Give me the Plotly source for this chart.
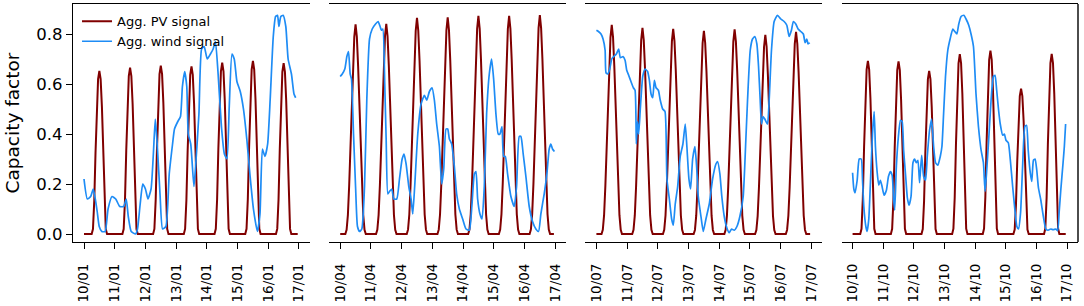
import plotly.graph_objects as go

# ---------------- data ----------------
WEEK_LABELS = {
    "jan": ["10/01", "11/01", "12/01", "13/01", "14/01", "15/01", "16/01", "17/01"],
    "apr": ["10/04", "11/04", "12/04", "13/04", "14/04", "15/04", "16/04", "17/04"],
    "jul": ["10/07", "11/07", "12/07", "13/07", "14/07", "15/07", "16/07", "17/07"],
    "oct": ["10/10", "11/10", "12/10", "13/10", "14/10", "15/10", "16/10", "17/10"],
}
TICK_HOURS = [0, 24, 48, 72, 96, 120, 144, 168]

# daily PV peak values (one per day)
PV_PEAKS_JAN = [0.652, 0.665, 0.673, 0.670, 0.685, 0.692, 0.683]
PV_PEAKS_APR = [0.839, 0.841, 0.865, 0.867, 0.873, 0.873, 0.876]
PV_PEAKS_JUL = [0.837, 0.825, 0.821, 0.813, 0.819, 0.797, 0.809]
PV_PEAKS_OCT = [0.692, 0.690, 0.652, 0.719, 0.733, 0.581, 0.720]

# relative shape of one day of PV output
PV_SHAPE_HOURS_WINTER = [6, 7, 8, 9, 10, 11, 12, 13, 14, 15, 16, 17, 18]
PV_SHAPE_WINTER = [0, 0.03, 0.20, 0.50, 0.78, 0.95, 1.0, 0.95, 0.78, 0.50, 0.20, 0.03, 0]
PV_SHAPE_HOURS_SUMMER = [4, 5, 6, 7, 8, 9, 10, 11, 12, 13, 14, 15, 16, 17, 18, 19, 20]
PV_SHAPE_SUMMER = [0, 0.02, 0.09, 0.23, 0.42, 0.62, 0.80, 0.94, 1.0, 0.94, 0.80, 0.62,
                   0.42, 0.23, 0.09, 0.02, 0]

WIND_HOURS_JAN = [0, 2.6, 5.2, 7.2, 8.8, 10.3, 11.9, 13.9, 16.5, 18.8, 21.9, 24.8, 27.9, 31,
                  33, 34.6, 36.9, 40.3, 41.8, 43.9, 45.9, 48, 50, 52.4, 54.2, 55.7, 57.3, 59.4,
                  61.4, 64, 66.6, 69.2, 70.7, 73.3, 75.4, 76.9, 78.7, 80.3, 81.5, 83.4, 85.9,
                  87.2, 89.8, 91.9, 93.9, 96.3, 98.8, 100.9, 102.7, 104.8, 107.4, 109.7, 111.7,
                  113.5, 115.6, 117.4, 119.5, 122.1, 124.6, 127.2, 129.8, 132.4, 135.5, 137.5,
                  139.4, 141.4, 143.5, 145.5, 147.9, 149.7, 151.2, 152.3, 153.8, 155.6, 157.7,
                  159.5, 162.1, 164.1, 165.4]
WIND_JAN = [0.22, 0.14, 0.15, 0.18, 0.14, 0.09, 0.03, 0.01, 0.01, 0.10, 0.15, 0.14, 0.11, 0.11,
            0.14, 0.07, 0.01, 0.0, 0.02, 0.12, 0.20, 0.18, 0.14, 0.18, 0.32, 0.46, 0.35, 0.16,
            0.02, 0.03, 0.24, 0.36, 0.42, 0.45, 0.47, 0.59, 0.65, 0.59, 0.40, 0.36, 0.19,
            0.27, 0.48, 0.74, 0.75, 0.70, 0.72, 0.74, 0.77, 0.64, 0.43, 0.32, 0.30,
            0.51, 0.72, 0.70, 0.61, 0.57, 0.50, 0.38, 0.23, 0.10, 0.01, 0.08,
            0.34, 0.31, 0.36, 0.54, 0.79, 0.87, 0.875, 0.83, 0.87, 0.875, 0.83,
            0.70, 0.64, 0.56, 0.545]

WIND_HOURS_APR = [0, 1.6, 3.6, 5.2, 6.5, 7.8, 8.8, 10.4, 12, 13.5, 15.1, 16.9, 19, 20.8, 22.9,
                  25, 27.6, 29.6, 31.2, 32.2, 33.3, 34.8, 35.9, 37.2, 38.5, 40.3, 41.9, 44.2,
                  46.3, 48.4, 49.9, 51.5, 53.6, 55.4, 56.7, 58.2, 60.6, 63.2, 65.8, 67.6, 69.7,
                  71.8, 73.6, 75.4, 77.5, 79.3, 80.9, 82.7, 84, 85.3, 87.1, 89.2, 91, 93.1,
                  95.7, 98.3, 100.9, 103, 104.8, 106.1, 107.4, 109.2, 110.8, 112.6, 114.4,
                  116.5, 118.3, 119.9, 121.7, 123.5, 124.8, 126.4, 127.7, 129, 130.8, 133.4,
                  136, 137.8, 139.9, 141.2, 143, 145.1, 147.7, 150.3, 152.9, 155, 156.8,
                  159.4, 161.5, 163.3, 164.6, 165.9, 167.4]
WIND_APR = [0.63, 0.64, 0.66, 0.71, 0.73, 0.64, 0.62, 0.40, 0.19, 0.03, 0.01, 0.02, 0.19, 0.54,
            0.78, 0.82, 0.84, 0.85, 0.83, 0.815, 0.82, 0.60, 0.38, 0.16, 0.17, 0.18, 0.14, 0.14,
            0.22, 0.30, 0.32, 0.28, 0.19, 0.14, 0.08, 0.19, 0.40, 0.52, 0.555, 0.535, 0.57,
            0.585, 0.535, 0.44, 0.35, 0.20, 0.26, 0.42, 0.42, 0.38, 0.36, 0.27, 0.16, 0.10,
            0.06, 0.02, 0.015, 0.12, 0.24, 0.25, 0.14, 0.08, 0.06, 0.19, 0.48,
            0.64, 0.70, 0.62, 0.48, 0.40, 0.40, 0.43, 0.31, 0.31, 0.24, 0.15,
            0.11, 0.19, 0.39, 0.39, 0.32, 0.23, 0.11, 0.05, 0.02, 0.01, 0.08,
            0.16, 0.24, 0.34, 0.36, 0.34, 0.33]

WIND_HOURS_JUL = [0, 1.6, 3.6, 5.2, 6.8, 7.5, 8.8, 10.4, 12, 13.5, 15.6, 17.4, 18.7, 20.8, 22.4,
                  23.7, 25.2, 27, 28.9, 30.2, 31.2, 32, 33, 34.3, 36.2, 38, 40, 41.4, 42.7, 44,
                  45.3, 46.6, 48.4, 49.9, 51.8, 53.6, 55.1, 57, 58.8, 60.1, 61.6, 63.5, 65.5,
                  67.6, 69.4, 70.7, 72.3, 73.6, 75.2, 77, 78.3, 79.6, 81.7, 83.5, 85.6, 88.2,
                  90.8, 93.4, 94.7, 96.5, 98, 99.9, 101.9, 103.8, 105.6, 107.7, 109.8, 112.1,
                  114.7, 116.8, 118.1, 120.2, 122, 123.8, 125.4, 126.7, 128, 129, 130.3, 131.6,
                  133.7, 135, 136.8, 138.9, 141.5, 144.1, 146.7, 148.8, 150.6, 152.4, 153.9,
                  155.8, 157.6, 159.7, 161.7, 163.1, 164.4, 165.4, 166.7]
WIND_JUL = [0.815, 0.81, 0.80, 0.78, 0.735, 0.645, 0.64, 0.66, 0.70, 0.71, 0.72, 0.74, 0.705,
            0.71, 0.695, 0.655, 0.635, 0.61, 0.585, 0.575, 0.36, 0.45, 0.40, 0.50, 0.63, 0.66,
            0.65, 0.615, 0.56, 0.545, 0.615, 0.585, 0.575, 0.535, 0.50, 0.49, 0.22, 0.14,
            0.06, 0.035, 0.12, 0.19, 0.31, 0.36, 0.44, 0.35, 0.22, 0.18, 0.30, 0.35, 0.27,
            0.15, 0.07, 0.01, 0.06, 0.12, 0.22, 0.28, 0.29, 0.24, 0.15, 0.07, 0.025, 0.005,
            0.02, 0.015, 0.03, 0.07, 0.15, 0.38, 0.535, 0.735, 0.78, 0.79, 0.76, 0.67,
            0.535, 0.44, 0.47, 0.46, 0.44, 0.535, 0.735, 0.85, 0.875, 0.86, 0.85, 0.835,
            0.79, 0.815, 0.85, 0.84, 0.82, 0.81, 0.80, 0.765, 0.78, 0.76, 0.765]

WIND_HOURS_OCT = [0, 1, 2, 3.6, 5.2, 6.8, 7.8, 8.8, 10.4, 11.4, 12.7, 14.3, 15.6, 16.9, 17.9,
                  19.2, 20.5, 21.8, 23.1, 24.7, 26.5, 28.1, 29.6, 31, 32.2, 33, 34.3, 35.9,
                  37.5, 38.8, 40, 41.6, 42.9, 44.2, 45.8, 47.3, 48.6, 49.9, 51.2, 52.5, 54.1,
                  55.7, 57.2, 58.5, 60.3, 61.9, 63.5, 65, 66.8, 68.7, 70, 71.3, 72.8, 74.6,
                  76.4, 78.5, 80.1, 81.7, 83.2, 85, 87.1, 88.9, 91, 92.8, 94.7, 96.7, 98.6,
                  100.7, 102.5, 103.8, 105.1, 106.6, 108.5, 110.3, 111.6, 112.9, 114.4, 115.7,
                  117.6, 118.9, 120.2, 122, 123.6, 125.4, 127.2, 128.7, 130, 131.6, 133.2,
                  135, 136.3, 137.6, 139.2, 140.4, 141.7, 143, 144.3, 145.6, 147.5, 149.3,
                  151.4, 153.2, 155.3, 157.1, 159.2, 160.7, 161.8, 163.1, 164.9, 165.9, 166.9]
WIND_OCT = [0.245, 0.18, 0.165, 0.215, 0.30, 0.30, 0.215, 0.11, 0.03, 0.01, 0.06, 0.245, 0.40,
            0.49, 0.35, 0.25, 0.195, 0.215, 0.19, 0.155, 0.175, 0.23, 0.25, 0.235, 0.135,
            0.095, 0.27, 0.39, 0.455, 0.45, 0.335, 0.23, 0.145, 0.115, 0.15, 0.285, 0.30,
            0.285, 0.295, 0.205, 0.315, 0.23, 0.215, 0.31, 0.415, 0.46, 0.35, 0.285, 0.275,
            0.31, 0.35, 0.48, 0.63, 0.735, 0.78, 0.82, 0.81, 0.80, 0.84, 0.87, 0.875, 0.86,
            0.835, 0.80, 0.75, 0.56, 0.43, 0.335, 0.285, 0.17, 0.255, 0.375, 0.535, 0.63,
            0.635, 0.575, 0.495, 0.44, 0.395, 0.40, 0.375, 0.365, 0.295, 0.19, 0.095, 0.03,
            0.02, 0.085, 0.27, 0.43, 0.435, 0.335, 0.245, 0.21, 0.295, 0.30, 0.255, 0.185,
            0.135, 0.075, 0.02, 0.015, 0.02, 0.017, 0.02, 0.013, 0.085, 0.175, 0.285, 0.35,
            0.44]

Y_TICKS = [0.0, 0.2, 0.4, 0.6, 0.8]

PANELS = [
    ("jan", PV_PEAKS_JAN, PV_SHAPE_HOURS_WINTER, PV_SHAPE_WINTER, WIND_HOURS_JAN, WIND_JAN),
    ("apr", PV_PEAKS_APR, PV_SHAPE_HOURS_SUMMER, PV_SHAPE_SUMMER, WIND_HOURS_APR, WIND_APR),
    ("jul", PV_PEAKS_JUL, PV_SHAPE_HOURS_SUMMER, PV_SHAPE_SUMMER, WIND_HOURS_JUL, WIND_JUL),
    ("oct", PV_PEAKS_OCT, PV_SHAPE_HOURS_WINTER, PV_SHAPE_WINTER, WIND_HOURS_OCT, WIND_OCT),
]

# ---------------- styling / layout ----------------
PV_COLOR = "#800000"
WIND_COLOR = "#1E8CF5"
FONT = "DejaVu Sans"
W, H = 1084, 306
ML, MR, MT, MB = 73, 6, 4, 64
PLOT_W = W - ML - MR
PANEL_W = 237.0
PITCH = 256.2
XR = [-8.6, 176.6]
YR = [-0.032, 0.92]

fig = go.Figure()
layout = {}

for i, (key, peaks, shp_h, shp, wh, wv) in enumerate(PANELS):
    n = i + 1
    xa = "x" if n == 1 else f"x{n}"
    ya = "y" if n == 1 else f"y{n}"
    pv = [0.0] * 168
    for d, pk in enumerate(peaks):
        for hr, s in zip(shp_h, shp):
            pv[24 * d + hr] = pk * s
    fig.add_trace(go.Scatter(x=list(range(168)), y=pv, mode="lines",
                             line=dict(color=PV_COLOR, width=2),
                             name="Agg. PV signal", showlegend=(n == 1),
                             xaxis=xa, yaxis=ya, hoverinfo="skip"))
    fig.add_trace(go.Scatter(x=wh, y=wv, mode="lines",
                             line=dict(color=WIND_COLOR, width=1.7, shape="spline", smoothing=0.5),
                             name="Agg. wind signal", showlegend=(n == 1),
                             xaxis=xa, yaxis=ya, hoverinfo="skip"))
    x0 = (PITCH * i) / PLOT_W
    x1 = (PITCH * i + PANEL_W) / PLOT_W
    xkey = "xaxis" if n == 1 else f"xaxis{n}"
    ykey = "yaxis" if n == 1 else f"yaxis{n}"
    layout[xkey] = dict(domain=[x0, min(x1, 1.0)], range=XR, anchor=ya, automargin=False,
                        tickmode="array", tickvals=TICK_HOURS, ticktext=WEEK_LABELS[key],
                        tickangle=-90, ticks="outside", ticklen=6, tickwidth=1.3,
                        tickcolor="black", showline=True, mirror=True, linecolor="black",
                        linewidth=1.4, showgrid=False, zeroline=False, ticklabelstandoff=9,
                        tickfont=dict(family=FONT, size=13.5, color="black"))
    ydict = dict(range=YR, anchor=xa, showgrid=False, zeroline=False, automargin=False)
    if n == 1:
        ydict.update(tickmode="array", tickvals=Y_TICKS,
                     ticktext=[f"{v:.1f}" for v in Y_TICKS],
                     ticks="outside", ticklen=6, tickwidth=1.3, tickcolor="black",
                     showline=True, linecolor="black", linewidth=1.4,
                     tickfont=dict(family=FONT, size=16.5, color="black"),
                     title=dict(text="Capacity factor", standoff=11,
                                font=dict(family=FONT, size=18.5, color="black")))
    else:
        ydict.update(showline=False, showticklabels=False, ticks="")
    layout[ykey] = ydict

fig.update_layout(
    width=W, height=H,
    margin=dict(l=ML, r=MR, t=MT, b=MB, pad=0, autoexpand=False),
    paper_bgcolor="white", plot_bgcolor="white",
    font=dict(family=FONT, color="black"),
    legend=dict(x=0.004, y=0.99, xanchor="left", yanchor="top",
                bgcolor="rgba(255,255,255,0)", borderwidth=0,
                font=dict(family=FONT, size=13, color="black"),
                tracegroupgap=0, itemwidth=30),
    **layout,
)
# right-hand frame line of the last panel
fig.add_shape(type="line", xref="x4 domain", yref="y4 domain", x0=1, x1=1, y0=0, y1=1,
              line=dict(color="black", width=1.4), layer="above")

fig.write_html("out.html", config={"displayModeBar": False},
               post_script="document.body.style.margin='0';document.body.style.padding='0';")
